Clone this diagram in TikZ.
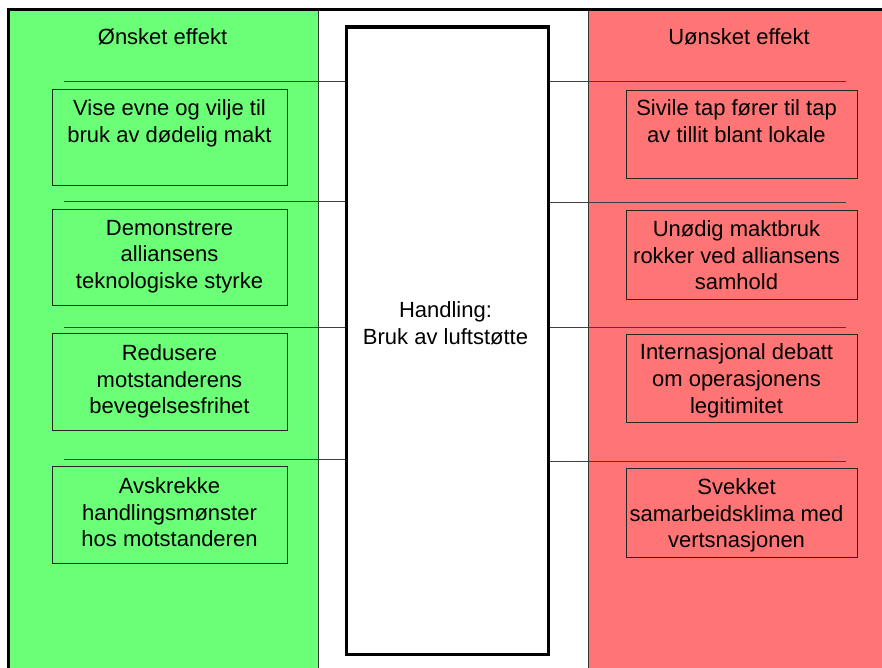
\documentclass[tikz,border=0pt]{standalone}
\usepackage{fontspec}
\setmainfont{Liberation Sans}
\definecolor{wantgreen}{RGB}{107,255,120}
\definecolor{unwantred}{RGB}{255,117,117}
\begin{document}
\begin{tikzpicture}[x=1pt,y=-1pt,
  txt/.style={font=\fontsize{22}{26.7}\selectfont, align=center, inner sep=0pt},
  effbox/.style={draw=black!85, line width=0.9pt, inner sep=0pt},
  leftbox/.style={effbox, minimum width=235pt, minimum height=96.5pt},
  rightbox/.style={effbox, minimum width=231pt, minimum height=88.5pt},
  divider/.style={draw=black!75, line width=1pt},
  actbox/.style={draw=black, line width=3.5pt, minimum width=201.6pt, minimum height=627.5pt, inner sep=0pt}]
\useasboundingbox (0,0) rectangle (882,668);
\fill[white] (0,0) rectangle (882,668);

% column backgrounds
\fill[wantgreen] (8.7,9.3) rectangle (318,668);
\fill[unwantred] (588,9.3) rectangle (882,668);
\draw[black!80, line width=0.8pt] (318,9.3) -- (318,668);
\draw[black!80, line width=0.8pt] (588,9.3) -- (588,668);

% outer frame
\draw[line width=3pt] (8.7,668) -- (8.7,9.3) -- (882,9.3);

% central action box
\node[actbox] (act) at (447.5,340.75) {};
\node[txt, anchor=base] (acttitle) at (445.5,344.5) {Handling:\\Bruk av luftstøtte};

% column headings
\node[txt, anchor=base] (goodhead) at (162.5,45) {Ønsket effekt};
\node[txt, anchor=base] (badhead) at (739,45) {Uønsket effekt};

% row separators
\coordinate (gl1) at (64,82);
\coordinate (gl2) at (64,202);
\coordinate (gl3) at (64,327);
\coordinate (gl4) at (64,459);
\coordinate (bl1) at (846,82);
\coordinate (bl2) at (846,203);
\coordinate (bl3) at (846,327);
\coordinate (bl4) at (846,461);
\foreach \i in {1,...,4} {
  \draw[divider] (gl\i) -- (gl\i -| act.west);
  \draw[divider] (bl\i -| act.east) -- (bl\i);
}

% desired effects
\node[leftbox] (g1) at (169.5,137.5) {};
\node[leftbox] (g2) at (169.5,257.5) {};
\node[leftbox] (g3) at (169.5,382) {};
\node[leftbox] (g4) at (169.5,515) {};
\node[txt, anchor=north] (g1t) at ([yshift=-11pt]g1.north) {Vise evne og vilje til\\bruk av dødelig makt};
\node[txt, anchor=north] (g2t) at ([yshift=-11pt]g2.north) {Demonstrere\\alliansens\\teknologiske styrke};
\node[txt, anchor=north] (g3t) at ([yshift=-11pt]g3.north) {Redusere\\motstanderens\\bevegelsesfrihet};
\node[txt, anchor=north] (g4t) at ([yshift=-11pt]g4.north) {Avskrekke\\handlingsmønster\\hos motstanderen};

% undesired effects
\node[rightbox] (b1) at (741.5,134.5) {};
\node[rightbox] (b2) at (741.5,255) {};
\node[rightbox] (b3) at (741.5,378.5) {};
\node[rightbox] (b4) at (741.5,513) {};
\node[txt, anchor=north] (b1t) at ([xshift=-5pt,yshift=-10pt]b1.north) {Sivile tap fører til tap\\av tillit blant lokale};
\node[txt, anchor=north] (b2t) at ([xshift=-5pt,yshift=-10pt]b2.north) {Unødig maktbruk\\rokker ved alliansens\\samhold};
\node[txt, anchor=north] (b3t) at ([xshift=-5pt,yshift=-10pt]b3.north) {Internasjonal debatt\\om operasjonens\\legitimitet};
\node[txt, anchor=north] (b4t) at ([xshift=-5pt,yshift=-10pt]b4.north) {Svekket\\samarbeidsklima med\\vertsnasjonen};
\end{tikzpicture}
\end{document}
